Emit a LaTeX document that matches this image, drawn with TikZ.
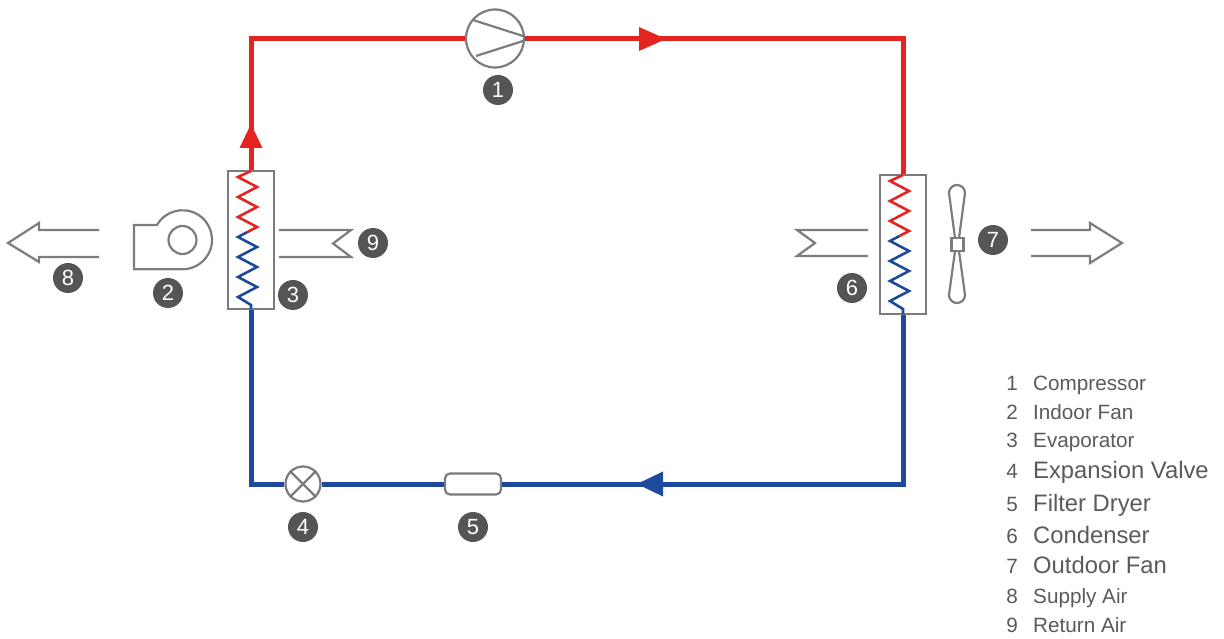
\documentclass[tikz,border=0pt]{standalone}
\usepackage{fontspec}
\setmainfont{Liberation Sans}
\definecolor{pipered}{HTML}{E52421}
\definecolor{pipeblue}{HTML}{1D4A9C}
\definecolor{partgray}{HTML}{7C7C7C}
\definecolor{lblgray}{HTML}{555555}
\definecolor{legtext}{HTML}{5A5A5A}
\begin{document}
\begin{tikzpicture}[x=1pt,y=-1pt,
  redpipe/.style={draw=pipered,line width=5pt},
  bluepipe/.style={draw=pipeblue,line width=5pt},
  part/.style={draw=partgray,line width=2.2pt},
  redcoil/.style={draw=pipered,line width=2.6pt},
  bluecoil/.style={draw=pipeblue,line width=2.6pt},
  lbl/.style={circle,fill=lblgray,text=white,minimum size=30pt,inner sep=0pt,font=\fontsize{22}{22}\selectfont},
  legnum/.style={inner sep=0pt,text=legtext,anchor=base},
  legtxt/.style={inner sep=0pt,text=legtext,anchor=base west},
  smallf/.style={font=\fontsize{20.7}{24}\selectfont},
  bigf/.style={font=\fontsize{23.8}{28}\selectfont}]
\useasboundingbox (0,0) rectangle (1224,639);

% components
\node[part,rectangle,minimum width=46pt,minimum height=138pt,inner sep=0pt] (evap) at (251,240) {};
\node[part,rectangle,minimum width=46pt,minimum height=139pt,inner sep=0pt] (cond) at (903,244.5) {};
\node[part,circle,minimum size=58pt,inner sep=0pt] (comp) at (495,38.5) {};
\node[part,circle,fill=white,minimum size=35pt,inner sep=0pt] (valve) at (303,484) {};
\node[part,rectangle,rounded corners=5pt,fill=white,minimum width=56pt,minimum height=21pt,inner sep=0pt] (filter) at (473,484) {};

% pipes
\draw[redpipe] (evap.north) |- (comp.west);
\draw[redpipe] (comp.east) -| (cond.north);
\draw[bluepipe] (cond.south) |- (filter.east);
\draw[bluepipe] (filter.west) -- (valve.east);
\draw[bluepipe] (valve.west) -| (evap.south);

% flow arrows
\fill[pipered] (251,124) -- (262.5,148) -- (239.5,148) -- cycle;
\fill[pipered] (666,39) -- (639,27) -- (639,51) -- cycle;
\fill[pipeblue] (637,484) -- (663,471.5) -- (663,496.5) -- cycle;

% compressor inner lines
\draw[part] (473,20) -- (523,36);
\draw[part] (476,56) -- (523,41);

% valve cross
\draw[part] (valve.north west) -- (valve.south east);
\draw[part] (valve.north east) -- (valve.south west);

% evaporator coil
\draw[redcoil] (251,171) -- (238,177) -- (257,187) -- (238,197) -- (257,207) -- (238,217) -- (257,227) -- (247.5,232);
\draw[bluecoil] (247.5,232) -- (238,237) -- (257,247) -- (238,257) -- (257,267) -- (238,277) -- (257,287) -- (238,297) -- (251,305) -- (251,309);

% condenser coil
\draw[redcoil] (903,175) -- (890,181) -- (909,191) -- (890,201) -- (909,211) -- (890,221) -- (909,231) -- (899.5,236);
\draw[bluecoil] (899.5,236) -- (890,241) -- (909,251) -- (890,261) -- (909,271) -- (890,281) -- (909,291) -- (890,301) -- (903,309) -- (903,314);

% indoor fan
\draw[part] (157,225) arc[start angle=-150,end angle=90,radius=29.5] -- (134,269.25) -- (134,225) -- cycle;
\draw[part] (182.5,240) circle[radius=14];

% outdoor fan
\draw[part] (955,238) -- (949,193) arc[start angle=180,end angle=360,radius=8] -- (959,238);
\draw[part] (955,251) -- (949,295) arc[start angle=180,end angle=0,radius=8] -- (959,251);
\node[part,rectangle,minimum width=12pt,minimum height=13pt,inner sep=0pt,fill=white] (hub) at (957.5,244.5) {};

% air arrows
\draw[part] (99,230) -- (39,230) -- (39,223) -- (8,243) -- (39,262) -- (39,257) -- (99,257);
\draw[part] (279,230) -- (351,230) -- (333,243.5) -- (351,257) -- (279,257);
\draw[part] (868,230) -- (797,230) -- (815,243) -- (797,256) -- (868,256);
\draw[part] (1031,230) -- (1090,230) -- (1090,223) -- (1122,243) -- (1090,263) -- (1090,256) -- (1031,256);

% number labels
\node[lbl] (l1) at (498,90) {1};
\node[lbl] (l2) at (168,293) {2};
\node[lbl] (l3) at (293,295) {3};
\node[lbl] (l4) at (303,527) {4};
\node[lbl] (l5) at (473,527) {5};
\node[lbl] (l6) at (852,288) {6};
\node[lbl] (l7) at (993,240) {7};
\node[lbl] (l8) at (68,278) {8};
\node[lbl] (l9) at (373,243) {9};

% legend
\node[legnum,smallf] (n1) at (1012,390) {1};
\node[legtxt,smallf] (t1) at (1033,390) {Compressor};
\node[legnum,smallf] (n2) at (1012,419) {2};
\node[legtxt,smallf] (t2) at (1033,419) {Indoor Fan};
\node[legnum,smallf] (n3) at (1012,447) {3};
\node[legtxt,smallf] (t3) at (1033,447) {Evaporator};
\node[legnum,smallf] (n4) at (1012,478) {4};
\node[legtxt,bigf] (t4) at (1033,478) {Expansion Valve};
\node[legnum,smallf] (n5) at (1012,511) {5};
\node[legtxt,bigf] (t5) at (1033,511) {Filter Dryer};
\node[legnum,smallf] (n6) at (1012,543) {6};
\node[legtxt,bigf] (t6) at (1033,543) {Condenser};
\node[legnum,smallf] (n7) at (1012,573) {7};
\node[legtxt,bigf] (t7) at (1033,573) {Outdoor Fan};
\node[legnum,smallf] (n8) at (1012,603) {8};
\node[legtxt,smallf] (t8) at (1033,603) {Supply Air};
\node[legnum,smallf] (n9) at (1012,632) {9};
\node[legtxt,smallf] (t9) at (1033,632) {Return Air};
\end{tikzpicture}
\end{document}
